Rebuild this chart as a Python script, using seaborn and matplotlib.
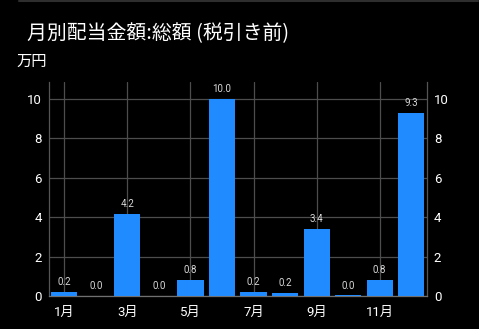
import matplotlib
matplotlib.use("Agg")
import matplotlib.pyplot as plt
from matplotlib.lines import Line2D
import seaborn as sns
import pandas as pd

months = ["1月", "2月", "3月", "4月", "5月", "6月", "7月", "8月", "9月", "10月", "11月", "12月"]
values = [0.22, 0.0, 4.17, 0.0, 0.82, 9.98, 0.20, 0.16, 3.4, 0.03, 0.82, 9.27]
tick_labels = ["1月", "3月", "5月", "7月", "9月", "11月"]
y_ticks = [0, 2, 4, 6, 8, 10]

sns.set_style("dark")
plt.rcParams["font.family"] = ["Roboto", "Noto Sans CJK JP", "DejaVu Sans"]

df = pd.DataFrame({"month": months, "value": values})

fig = plt.figure(figsize=(4.79, 3.29), dpi=100, facecolor="black")
ax = fig.add_axes([0.1013, 0.1003, 0.7901, 0.6505])
ax.set_facecolor("black")

sns.barplot(data=df, x="month", y="value", order=months, color="#1f8bff",
            saturation=1, width=0.83, ax=ax, zorder=3, edgecolor="none", linewidth=0)

for i, v in enumerate(values):
    ax.annotate(f"{v:.1f}", (i, v), xytext=(0, 3.5), textcoords="offset points",
                ha="center", va="bottom", fontsize=7, color="#d8d8d8", zorder=4)

ax.set_xlim(-0.5, 11.5)
ax.set_ylim(0, 10.86)
ax.set_xticks(range(0, 12, 2))
ax.set_xticklabels(tick_labels)
ax.set_yticks(y_ticks)
ax.set_yticklabels([str(t) for t in y_ticks])
ax.set_xlabel("")
ax.set_ylabel("")

ax.grid(True, color="#4d4d4d", linewidth=0.9, zorder=0)
ax.set_axisbelow(True)

for side in ["left", "right", "bottom"]:
    ax.spines[side].set_visible(True)
    ax.spines[side].set_color("#555555")
    ax.spines[side].set_linewidth(0.9)
ax.spines["bottom"].set_color("#707070")
ax.spines["top"].set_visible(False)

ax.tick_params(axis="y", which="both", length=0, labelsize=9.5, labelcolor="white",
               left=False, right=False, labelleft=True, labelright=True, pad=5)
ax.tick_params(axis="x", length=0, labelsize=9.5, labelcolor="white", pad=7)

fig.text(0.056, 0.898, "月別配当金額:総額 (税引き前)", fontsize=14.3, color="white",
         ha="left", va="center", family=["Noto Sans CJK JP", "DejaVu Sans"])
fig.text(0.035, 0.815, "万円", fontsize=11, color="white", ha="left", va="center",
         family=["Noto Sans CJK JP", "DejaVu Sans"])

fig.add_artist(Line2D([0.04, 0.997], [0.998, 0.998], color="#2e2e2e", linewidth=1.5))

fig.savefig("out.png", dpi=100, facecolor="black")
